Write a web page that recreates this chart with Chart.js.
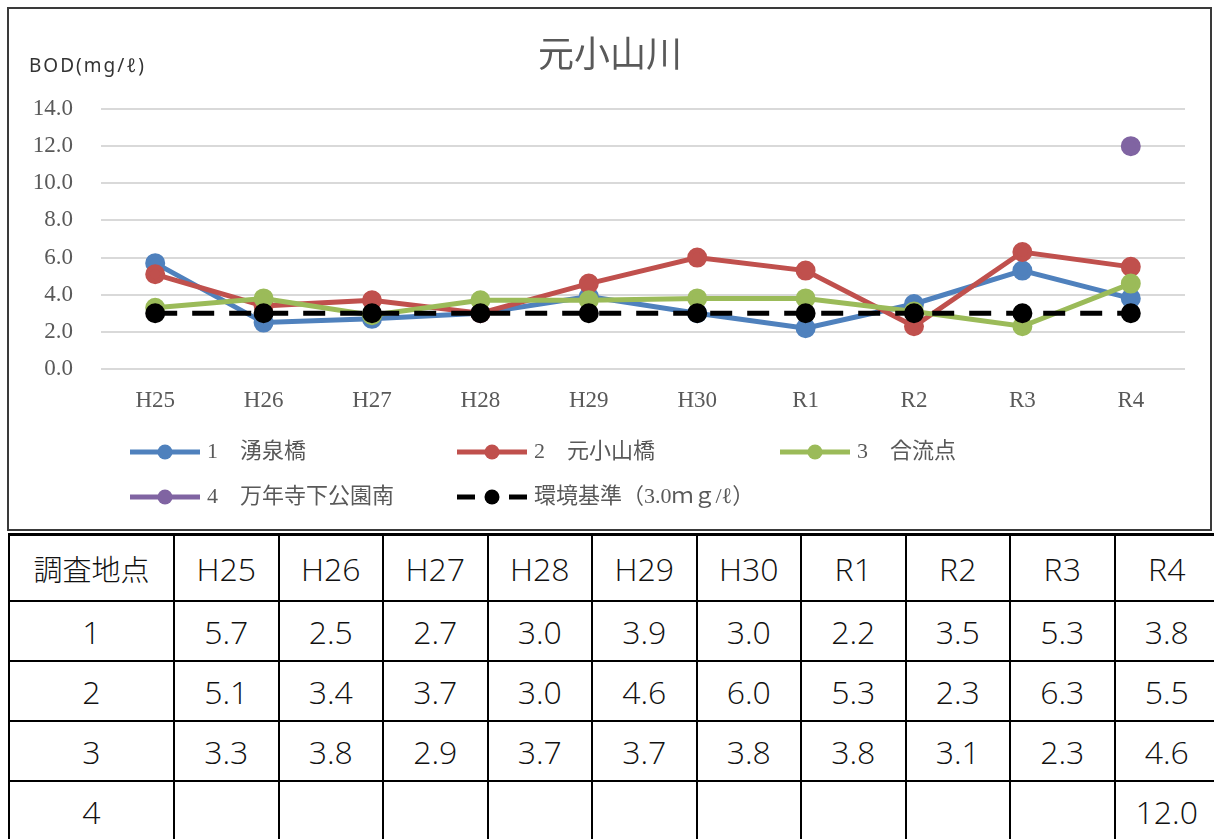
<!DOCTYPE html>
<html>
<head>
<meta charset="utf-8">
<script src="https://cdn.jsdelivr.net/npm/chart.js@4/dist/chart.umd.min.js"></script>
<style>
  body { margin: 0; background: #fff; width: 1214px; height: 839px; overflow: hidden; position: relative; }
  #chartBox { position: absolute; left: 7px; top: 7px; width: 1201px; height: 520px; border: 2px solid #3a3a3a; }
  #chartBox canvas { position: absolute; left: 0; top: 0; }
  #dataTable { position: absolute; left: 8px; top: 533px; border-collapse: collapse; table-layout: fixed; width: 1210px; }
  #dataTable td { border: 2px solid #000; text-align: center; font-family: 'Open Sans', 'Noto Sans CJK JP', sans-serif; font-weight: 300; font-size: 32px; color: #111; padding: 0; height: 58px; }
  #dataTable tr.head td { border-top: 3px solid #000; height: 64px; }
  #dataTable td.cjk { font-family: 'Noto Sans CJK JP', sans-serif; font-size: 29px; font-weight: 300; }
</style>
</head>
<body>
<div id="chartBox"><canvas id="bodChart" width="1201" height="520"></canvas></div>
<table id="dataTable"></table>
<script>
// 年度
const years = ['H25', 'H26', 'H27', 'H28', 'H29', 'H30', 'R1', 'R2', 'R3', 'R4'];
// BOD (mg/l) per site
const site1 = [5.7, 2.5, 2.7, 3.0, 3.9, 3.0, 2.2, 3.5, 5.3, 3.8];
const site2 = [5.1, 3.4, 3.7, 3.0, 4.6, 6.0, 5.3, 2.3, 6.3, 5.5];
const site3 = [3.3, 3.8, 2.9, 3.7, 3.7, 3.8, 3.8, 3.1, 2.3, 4.6];
const site4 = [null, null, null, null, null, null, null, null, null, 12.0];
const standard = [3.0, 3.0, 3.0, 3.0, 3.0, 3.0, 3.0, 3.0, 3.0, 3.0];
const yTicks = [0, 2, 4, 6, 8, 10, 12, 14];

const siteLabels = ['1　湧泉橋', '2　元小山橋', '3　合流点', '4　万年寺下公園南', '環境基準（3.0ｍｇ/ℓ）'];
const tableRowNames = ['1', '2', '3', '4'];

const makeSeries = (label, data, color, order, dash) => ({
  label: label,
  data: data,
  borderColor: color,
  backgroundColor: color,
  pointBackgroundColor: color,
  pointBorderColor: color,
  borderWidth: 5,
  pointRadius: 7.5,
  pointHoverRadius: 7.5,
  borderDash: dash || [],
  order: order,
  spanGaps: false,
  tension: 0
});

const datasets = [
  makeSeries(siteLabels[0], site1, '#4f81bd', 5),
  makeSeries(siteLabels[1], site2, '#c0504d', 4),
  makeSeries(siteLabels[2], site3, '#9bbb59', 3),
  makeSeries(siteLabels[3], site4, '#8064a2', 2),
  makeSeries(siteLabels[4], standard, '#000000', 1, [22, 15])
];

// title + axis unit + grid legend drawn on the canvas
const decorPlugin = {
  id: 'decor',
  afterDraw(chart) {
    const ctx = chart.ctx;
    ctx.save();
    ctx.fillStyle = '#595959';
    ctx.font = '36px "Noto Sans CJK JP", sans-serif';
    ctx.textAlign = 'center';
    ctx.textBaseline = 'middle';
    ctx.fillText('元小山川', 601, 44);

    ctx.fillStyle = '#333';
    ctx.font = '19px "Noto Sans", "Noto Sans CJK JP", sans-serif';
    ctx.letterSpacing = '2px';
    ctx.textAlign = 'left';
    ctx.fillText('BOD(mg/ℓ)', 20, 58);
    ctx.letterSpacing = '0px';

    // legend: 3 columns, 2 rows
    const colX = [121, 448, 771];
    const rowY = [443, 488];
    chart.data.datasets.forEach((ds, i) => {
      const x = colX[i % 3];
      const y = rowY[Math.floor(i / 3)];
      ctx.strokeStyle = ds.borderColor;
      ctx.fillStyle = ds.borderColor;
      ctx.lineWidth = 5;
      ctx.lineCap = 'butt';
      if (ds.borderDash.length) {
        ctx.beginPath();
        ctx.moveTo(x, y); ctx.lineTo(x + 18, y);
        ctx.moveTo(x + 52, y); ctx.lineTo(x + 70, y);
        ctx.stroke();
      } else {
        ctx.beginPath();
        ctx.moveTo(x, y); ctx.lineTo(x + 70, y);
        ctx.stroke();
      }
      ctx.beginPath();
      ctx.arc(x + 35, y, 7.5, 0, Math.PI * 2);
      ctx.fill();
      ctx.fillStyle = '#595959';
      ctx.font = '22px "Liberation Serif", "Noto Sans CJK JP", serif';
      ctx.textAlign = 'left';
      ctx.textBaseline = 'middle';
      ctx.fillText(ds.label, x + 77, y);
    });
    ctx.restore();
  }
};

const ctx = document.getElementById('bodChart').getContext('2d');
new Chart(ctx, {
  type: 'line',
  data: { labels: years, datasets: datasets },
  options: {
    responsive: false,
    animation: false,
    devicePixelRatio: 1,
    layout: { padding: { top: 100, right: 25, bottom: 100, left: 0 } },
    plugins: {
      legend: { display: false },
      title: { display: false },
      tooltip: { enabled: false }
    },
    scales: {
      x: {
        offset: true,
        grid: { display: false, drawTicks: false },
        border: { display: false },
        ticks: {
          padding: 18,
          color: '#595959',
          font: { family: '"Liberation Serif", serif', size: 23 }
        },
        afterFit: (scale) => { scale.height = 60; }
      },
      y: {
        min: 0,
        max: 14,
        afterBuildTicks: (scale) => { scale.ticks = yTicks.map(v => ({ value: v })); },
        grid: { color: '#d9d9d9', lineWidth: 2, drawTicks: false },
        border: { display: false },
        ticks: {
          padding: 28,
          color: '#595959',
          font: { family: '"Liberation Serif", serif', size: 23 },
          callback: (v) => Number(v).toFixed(1)
        },
        afterFit: (scale) => { scale.width = 92; }
      }
    }
  },
  plugins: [decorPlugin]
});

// data table under the chart
const table = document.getElementById('dataTable');
const colgroup = document.createElement('colgroup');
colgroup.innerHTML = '<col style="width:165px">' + years.map(() => '<col style="width:104.5px">').join('');
table.appendChild(colgroup);
const tbody = document.createElement('tbody');
table.appendChild(tbody);
const addRow = (cells, cls) => {
  const tr = document.createElement('tr');
  if (cls) tr.className = cls;
  cells.forEach(c => {
    const td = document.createElement('td');
    td.textContent = c;
    if (c === '調査地点') td.className = 'cjk';
    tr.appendChild(td);
  });
  tbody.appendChild(tr);
};
const fmt = (v) => (v === null ? '' : v.toFixed(1));
addRow(['調査地点'].concat(years), 'head');
[site1, site2, site3, site4].forEach((s, i) => addRow([tableRowNames[i]].concat(s.map(fmt))));
</script>
</body>
</html>
